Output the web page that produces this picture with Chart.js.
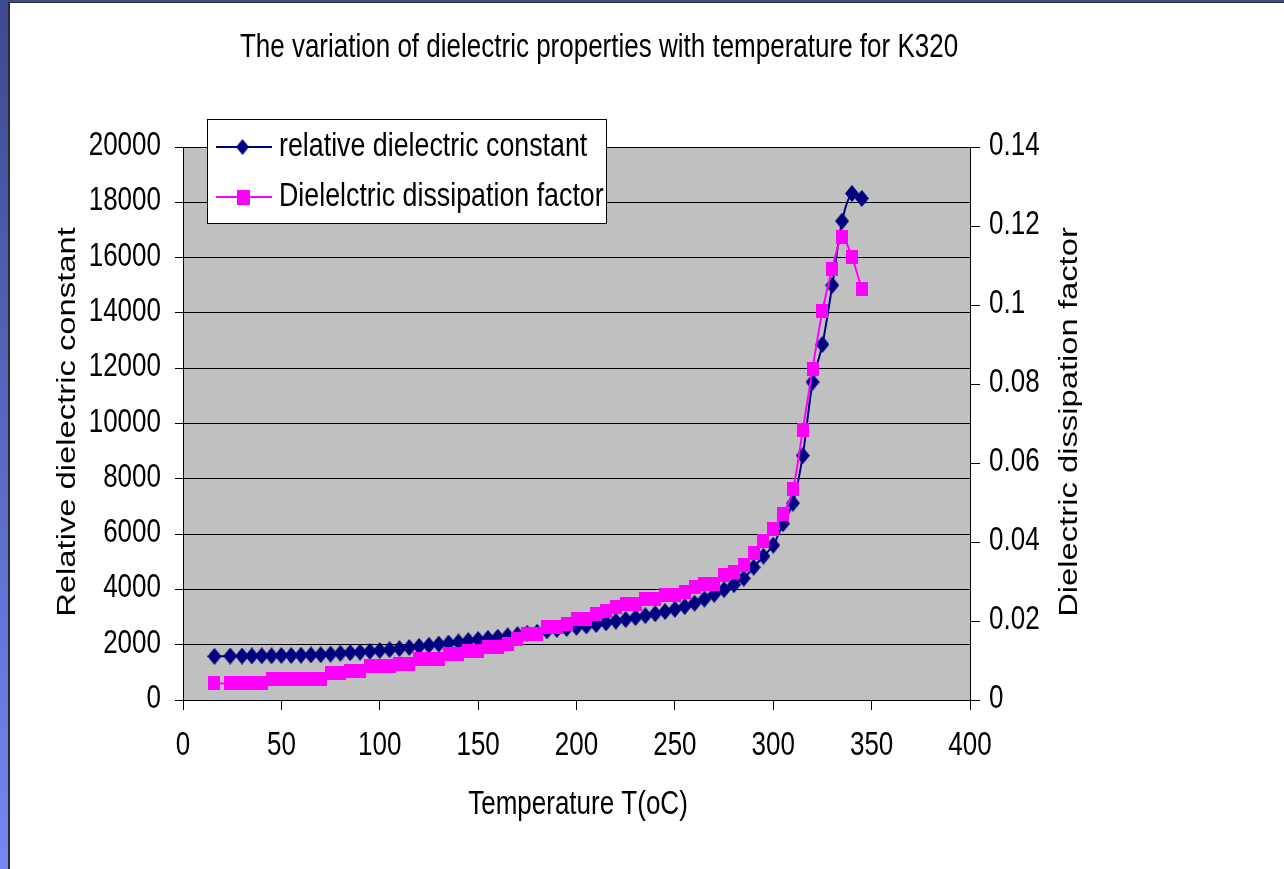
<!DOCTYPE html>
<html>
<head>
<meta charset="utf-8">
<script src="https://cdn.jsdelivr.net/npm/chart.js@4.4.1/dist/chart.umd.min.js"></script>
<style>
  body { margin: 0; background: #fff; overflow: hidden; }
  #stripLeft { position: absolute; left: 0; top: 0; width: 8px; height: 869px; background: linear-gradient(#3c4a8e, #7586f2); z-index: 2; }
  #lineLeft { position: absolute; left: 8px; top: 2px; width: 2px; height: 867px; background: #2a2c3a; z-index: 2; }
  #stripTop { position: absolute; left: 0; top: 0; width: 1284px; height: 2px; background: #3c4a8e; z-index: 2; }
  #lineTop { position: absolute; left: 8px; top: 2px; width: 1276px; height: 1px; background: #2a2c3a; z-index: 2; }
  #wrap { position: absolute; left: 0; top: 0; width: 1284px; height: 869px; }
</style>
</head>
<body>
<div id="stripLeft"></div><div id="lineLeft"></div><div id="stripTop"></div><div id="lineTop"></div>
<div id="wrap"><canvas id="chart" width="1284" height="869"></canvas></div>
<script>
// temperature (oC)
const temps = [16, 24, 30, 35, 40, 45, 50, 55, 60, 65, 70, 75, 80, 85, 90, 95, 100, 105, 110, 115,
  120, 125, 130, 135, 140, 145, 150, 155, 160, 165, 170, 175, 180, 185, 190, 195, 200, 205, 210, 215,
  220, 225, 230, 235, 240, 245, 250, 255, 260, 265, 270, 275, 280, 285, 290, 295, 300, 305, 310, 315,
  320, 325, 330, 335, 340, 345]

// relative dielectric constant
const permittivity = [1580, 1590, 1590, 1595, 1600, 1600, 1610, 1610, 1620, 1630, 1640, 1660, 1690, 1710, 1730, 1760, 1790, 1820, 1860, 1900,
  1940, 1980, 2020, 2060, 2100, 2150, 2190, 2230, 2270, 2320, 2360, 2410, 2450, 2500, 2550, 2590, 2630, 2680, 2730, 2790,
  2850, 2910, 2980, 3050, 3120, 3200, 3280, 3380, 3500, 3650, 3820, 3990, 4170, 4400, 4800, 5200, 5600, 6380, 7120, 8840,
  11500, 12860, 15000, 17320, 18320, 18140]

// dielectric dissipation factor
const lossFactor = [0.0042, 0.0042, 0.0042, 0.0042, 0.0042, 0.0053, 0.0053, 0.0053, 0.0053, 0.0053, 0.0053, 0.0068, 0.0068, 0.0074, 0.0074, 0.0086, 0.0086, 0.0086, 0.0092, 0.0092,
  0.0105, 0.0105, 0.0105, 0.0117, 0.0117, 0.0124, 0.0124, 0.0135, 0.0135, 0.0142, 0.0155, 0.0166, 0.0166, 0.0185, 0.0185, 0.0192, 0.0206, 0.0206, 0.0217, 0.0225,
  0.0235, 0.0242, 0.0242, 0.0255, 0.0255, 0.0267, 0.0267, 0.0273, 0.0286, 0.0293, 0.0293, 0.0316, 0.0324, 0.0341, 0.0373, 0.0402, 0.0434, 0.0470, 0.0533, 0.0683,
  0.0839, 0.0985, 0.1092, 0.1172, 0.1122, 0.1040]

// axis ticks
const xTicks = [0, 50, 100, 150, 200, 250, 300, 350, 400]
const yTicks = [0, 2000, 4000, 6000, 8000, 10000, 12000, 14000, 16000, 18000, 20000]
const y2Ticks = [0, 0.02, 0.04, 0.06, 0.08, 0.1, 0.12, 0.14]

const seriesNames = ['relative dielectric constant', 'Dielelctric dissipation factor']
const chartTitle = 'The variation of dielectric properties with temperature for K320'
const xTitle = 'Temperature T(oC)'
const yTitle = 'Relative dielectric constant'
const y2Title = 'Dielectric dissipation factor'

const NAVY = '#000080'
const PINK = '#ff00ff'
const FAMILY = "'Liberation Sans', Arial, sans-serif"
const STRETCH = 1.26

// text in the picture is stretched vertically, so draw it that way
function stretchText(ctx, text, x, y, align, rotated, size) {
  ctx.save()
  ctx.translate(x, y)
  if (rotated) {
    ctx.rotate(-Math.PI / 2)
    ctx.scale(STRETCH, 1)
  } else {
    ctx.scale(1, STRETCH)
  }
  ctx.font = (size || 26) + 'px ' + FAMILY
  ctx.fillStyle = '#000'
  ctx.textAlign = align
  ctx.textBaseline = 'middle'
  ctx.fillText(text, 0, 0)
  ctx.restore()
}

// marker images, a bit taller than wide like the picture
function makeMarker(w, h, color, diamond) {
  const c = document.createElement('canvas')
  c.width = w
  c.height = h
  const g = c.getContext('2d')
  g.fillStyle = color
  if (diamond) {
    g.beginPath()
    g.moveTo(w / 2, 0)
    g.lineTo(w, h / 2)
    g.lineTo(w / 2, h)
    g.lineTo(0, h / 2)
    g.closePath()
    g.fill()
  } else {
    g.fillRect(0, 0, w, h)
  }
  return c
}
const diamondImg = makeMarker(14, 17, NAVY, true)
const squareImg = makeMarker(12, 14, PINK, false)

function useTicks(list) {
  return scale => { scale.ticks = list.map(v => ({ value: v })) }
}

const plotBg = {
  id: 'plotBg',
  beforeDraw(chart) {
    const { ctx, chartArea: a } = chart
    ctx.save()
    ctx.fillStyle = '#c0c0c0'
    ctx.fillRect(a.left, a.top, a.right - a.left, a.bottom - a.top)
    ctx.restore()
  }
}

const texts = {
  id: 'texts',
  afterDraw(chart) {
    const ctx = chart.ctx
    const { x, y, y2 } = chart.scales
    x.ticks.forEach(t => stretchText(ctx, String(t.value), x.getPixelForValue(t.value), 746, 'center', false))
    y.ticks.forEach(t => stretchText(ctx, String(t.value), 161, y.getPixelForValue(t.value) - 1, 'right', false))
    y2.ticks.forEach(t => stretchText(ctx, String(t.value), 989, y2.getPixelForValue(t.value) - 1, 'left', false))

    stretchText(ctx, chartTitle, 599, 48, 'center', false)
    stretchText(ctx, xTitle, 578, 805, 'center', false)
    stretchText(ctx, yTitle, 68, 422, 'center', true)
    stretchText(ctx, y2Title, 1070, 422, 'center', true)

    // legend box
    ctx.save()
    ctx.fillStyle = '#fff'
    ctx.strokeStyle = '#000'
    ctx.lineWidth = 1
    ctx.fillRect(207.5, 119.5, 399, 104)
    ctx.strokeRect(207.5, 119.5, 399, 104)
    const rows = [147, 197]
    const colors = [NAVY, PINK]
    rows.forEach((ry, i) => {
      ctx.strokeStyle = colors[i]
      ctx.lineWidth = 2
      ctx.beginPath()
      ctx.moveTo(216, ry)
      ctx.lineTo(272, ry)
      ctx.stroke()
      if (i === 0) ctx.drawImage(diamondImg, 236, ry - 8, 13, 16)
      else ctx.drawImage(squareImg, 237, ry - 7, 13, 15)
      stretchText(ctx, seriesNames[i], 279, ry, 'left', false, 26.8)
    })
    ctx.restore()
  }
}

const data = {
  datasets: [{
    label: seriesNames[0],
    data: temps.map((t, i) => ({ x: t, y: permittivity[i] })),
    yAxisID: 'y',
    borderColor: NAVY,
    backgroundColor: NAVY,
    borderWidth: 2,
    pointStyle: diamondImg,
    pointRadius: 8,
    tension: 0.3,
    order: 1
  }, {
    label: seriesNames[1],
    data: temps.map((t, i) => ({ x: t, y: lossFactor[i] })),
    yAxisID: 'y2',
    borderColor: PINK,
    backgroundColor: PINK,
    borderWidth: 2,
    pointStyle: squareImg,
    pointRadius: 8,
    tension: 0.3,
    order: 0
  }]
}

const config = {
  type: 'line',
  data: data,
  options: {
    responsive: false,
    animation: false,
    devicePixelRatio: 1,
    layout: { padding: { left: 0, top: 147, right: 214, bottom: 69 } },
    plugins: { legend: { display: false }, tooltip: { enabled: false }, title: { display: false } },
    scales: {
      x: {
        type: 'linear', min: 0, max: 400,
        afterBuildTicks: useTicks(xTicks),
        afterFit: s => { s.height = 100 },
        ticks: { display: false },
        grid: { drawOnChartArea: false, color: '#000', tickLength: 10 },
        border: { color: '#000', width: 1 }
      },
      y: {
        position: 'left', min: 0, max: 20000,
        afterBuildTicks: useTicks(yTicks),
        afterFit: s => { s.width = 183 },
        ticks: { display: false },
        grid: { color: '#000', tickLength: 8 },
        border: { color: '#000', width: 1 }
      },
      y2: {
        position: 'right', min: 0, max: 0.14,
        afterBuildTicks: useTicks(y2Ticks),
        afterFit: s => { s.width = 100 },
        ticks: { display: false },
        grid: { drawOnChartArea: false, color: '#000', tickLength: 10 },
        border: { color: '#000', width: 1 }
      }
    }
  },
  plugins: [plotBg, texts]
}

const myChart = new Chart(document.getElementById('chart'), config)
</script>
</body>
</html>
